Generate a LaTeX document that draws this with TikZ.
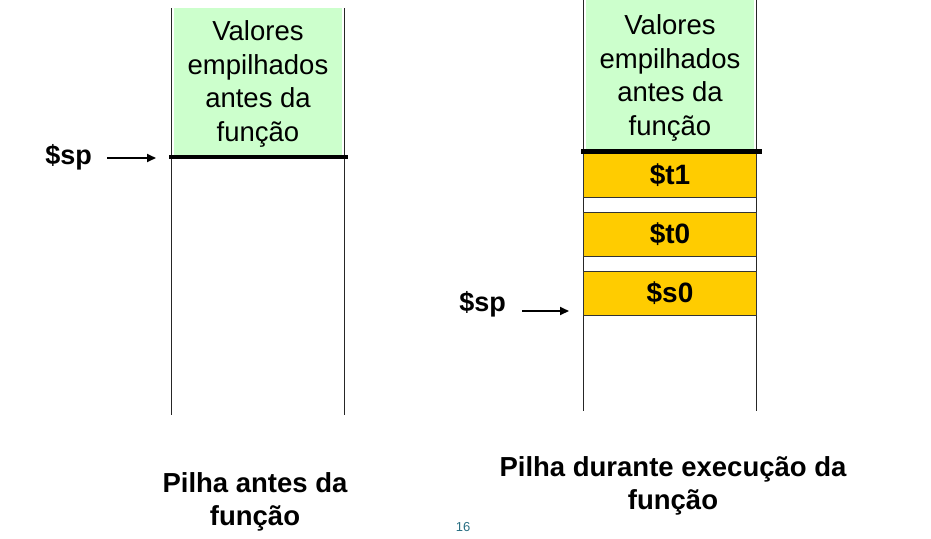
\documentclass[tikz,border=0pt]{standalone}
\usepackage{fontspec}
\setmainfont{Liberation Sans}
\usetikzlibrary{arrows.meta}
\definecolor{stackgreen}{RGB}{204,255,204}
\definecolor{regyellow}{RGB}{255,204,0}
\definecolor{pagenum}{RGB}{40,110,130}
\begin{document}
\begin{tikzpicture}[x=1pt,y=-1pt,
  greenbox/.style={fill=stackgreen,draw=none,minimum width=168pt,inner sep=0pt},
  greentext/.style={inner sep=0pt,align=center,font=\fontsize{27.5}{33.5}\selectfont},
  regbox/.style={fill=regyellow,draw=black!80,line width=0.8pt,minimum width=173pt,minimum height=44pt,inner sep=0pt,
    font=\fontsize{28}{30}\selectfont\bfseries},
  wall/.style={line width=1.4pt,black!85},
  topline/.style={line width=4.5pt,black},
  ptr/.style={line width=2pt,-{Triangle[length=9pt,width=8pt]}},
  splabel/.style={font=\fontsize{27}{30}\selectfont\bfseries,inner sep=0pt},
  caption/.style={font=\fontsize{27.5}{33}\selectfont\bfseries,align=center,inner sep=0pt}]
\useasboundingbox (0,0) rectangle (931,538);
% ---------- left stack ----------
\node[greenbox,minimum height=147pt] (gL) at (258,81.5) {};
\node[greentext] (gLt) at (258,84) {Valores\\empilhados\\antes da\\função};
\coordinate (wLtl) at (171.5,8);
\coordinate (wLbl) at (171.5,415);
\coordinate (wLtr) at (344.5,8);
\coordinate (wLbr) at (344.5,415);
\draw[wall] (wLtl) -- (wLbl);
\draw[wall] (wLtr) -- (wLbr);
\coordinate (tLa) at (169,157);
\coordinate (tLb) at (348,157);
\draw[topline] (tLa) -- (tLb);
\node[splabel,anchor=east] (spL) at (92,157) {\$sp};
\coordinate (aLs) at (107,158);
\coordinate (aLe) at (156,158);
\draw[ptr] (aLs) -- (aLe);
\node[caption] (capL) at (255,502) {Pilha antes da\\função};
% ---------- right stack ----------
\node[greenbox,minimum height=150pt] (gR) at (670,75) {};
\node[greentext] (gRt) at (670,78) {Valores\\empilhados\\antes da\\função};
\coordinate (wRtl) at (583.5,0);
\coordinate (wRbl) at (583.5,411);
\coordinate (wRtr) at (756.5,0);
\coordinate (wRbr) at (756.5,411);
\draw[wall] (wRtl) -- (wRbl);
\draw[wall] (wRtr) -- (wRbr);
\node[regbox] (t1) at (670,175) {\$t1};
\node[regbox] (t0) at (670,234) {\$t0};
\node[regbox] (s0) at (670,293) {\$s0};
\coordinate (tRa) at (581,151.5);
\coordinate (tRb) at (762,151.5);
\draw[topline] (tRa) -- (tRb);
\node[splabel,anchor=east] (spR) at (506,304) {\$sp};
\coordinate (aRs) at (522,311);
\coordinate (aRe) at (569,311);
\draw[ptr] (aRs) -- (aRe);
\node[caption] (capR) at (673,486) {Pilha durante execução da\\função};
% ---------- page number ----------
\node[font=\fontsize{13}{15}\selectfont,text=pagenum,inner sep=0pt] (pg) at (463,527) {16};
\end{tikzpicture}
\end{document}
